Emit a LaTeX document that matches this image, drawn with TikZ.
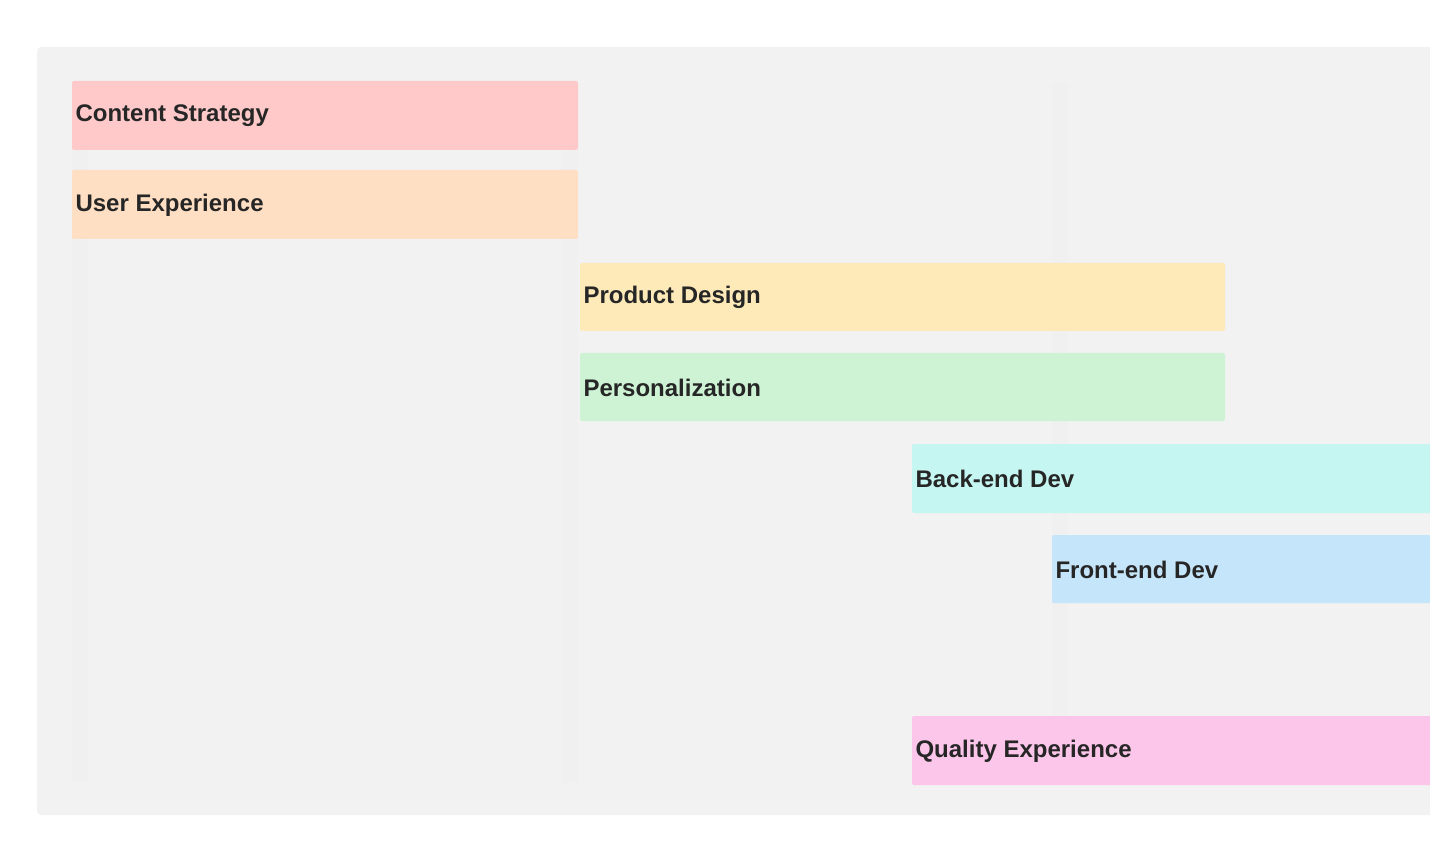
\documentclass[tikz,border=0pt]{standalone}
\usepackage{fontspec}
\setmainfont{Liberation Sans}
\begin{document}
\begin{tikzpicture}[x=1pt,y=-1pt,
  bar/.style={draw=none,rounded corners=2pt},
  lbl/.style={anchor=west,font=\bfseries\fontsize{24}{28}\selectfont,text=black!85},
  grid/.style={fill=black!6,draw=none}]
\useasboundingbox (0,0) rectangle (1430,850);
\fill[white] (0,0) rectangle (1430,850);
\fill[black!5,rounded corners=4pt] (37,47) rectangle (1440,815);
\fill[grid] (72,82) rectangle (88,783);
\fill[grid] (562,82) rectangle (578,783);
\fill[grid] (1052,82) rectangle (1068,783);
\definecolor{cA}{HTML}{FFC9C9}
\definecolor{cB}{HTML}{FFDFC3}
\definecolor{cC}{HTML}{FDEAB8}
\definecolor{cD}{HTML}{CDF3D4}
\definecolor{cE}{HTML}{C6F6F1}
\definecolor{cF}{HTML}{C5E5FB}
\definecolor{cG}{HTML}{FCC5EA}
\fill[bar,cA] (72,81) rectangle (578,150);
\node[lbl] (a) at (72,116) {Content Strategy};
\fill[bar,cB] (72,170) rectangle (578,239);
\node[lbl] (b) at (72,205) {User Experience};
\fill[bar,cC] (580,263) rectangle (1225,331);
\node[lbl] (c) at (580,297) {Product Design};
\fill[bar,cD] (580,353) rectangle (1225,421);
\node[lbl] (d) at (580,388) {Personalization};
\fill[bar,cE] (912,444) rectangle (1440,513);
\node[lbl] (e) at (912,479) {Back-end Dev};
\fill[bar,cF] (1052,535) rectangle (1440,603);
\node[lbl] (f) at (1052,570) {Front-end Dev};
\fill[bar,cG] (912,716) rectangle (1440,785);
\node[lbl] (g) at (912,751) {Quality Experience};
\end{tikzpicture}
\end{document}
